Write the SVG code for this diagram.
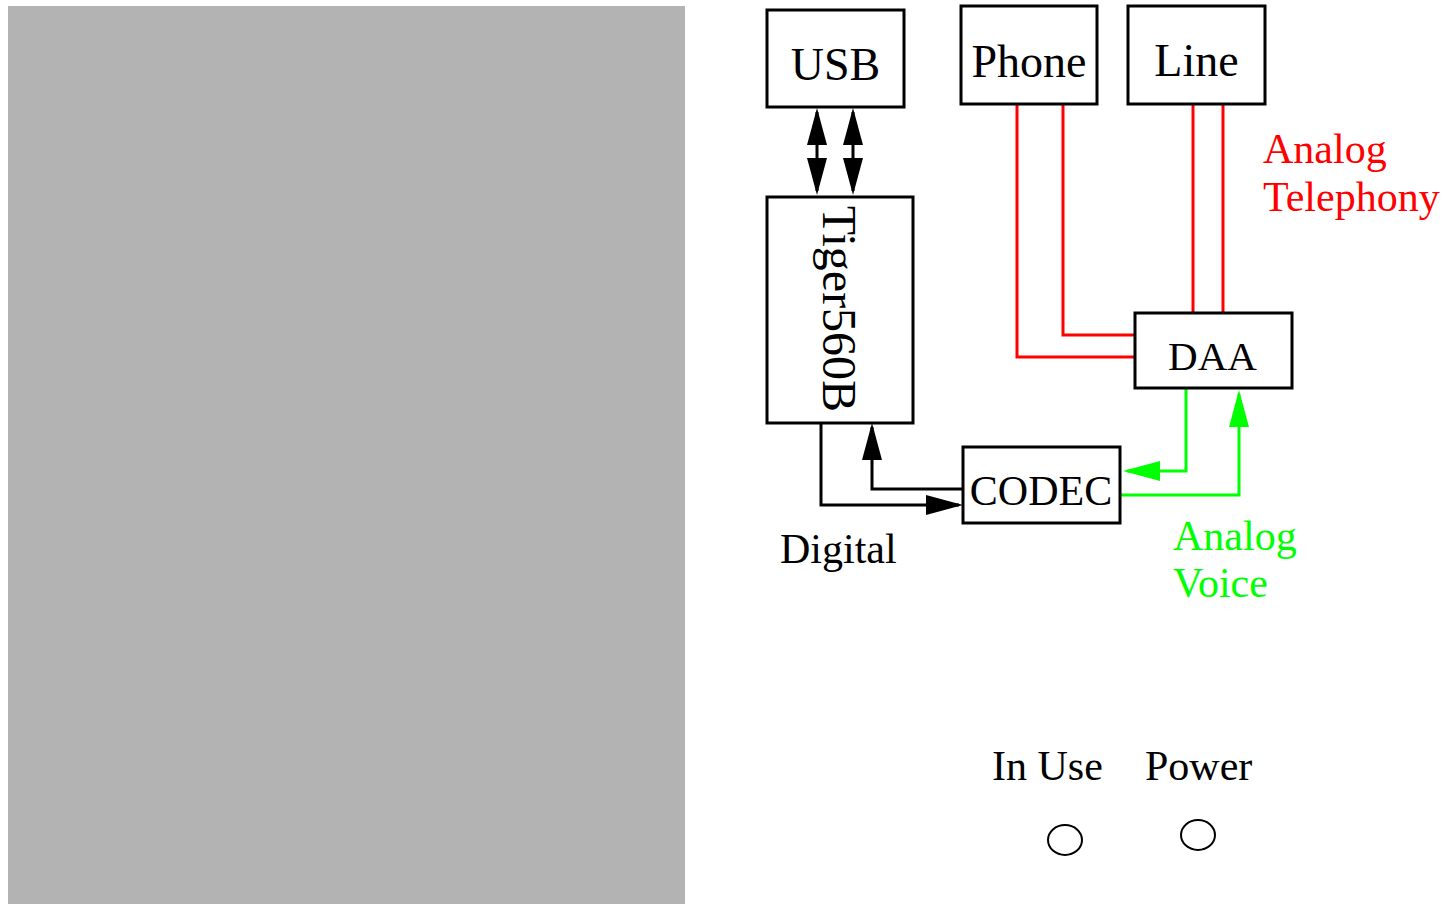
<svg xmlns="http://www.w3.org/2000/svg" width="1442" height="904" viewBox="0 0 1442 904">
<style>
  .box{fill:#fff;stroke:#000;stroke-width:3}
  .lbl{font-family:"Liberation Serif","Times New Roman",serif;text-anchor:middle;fill:#000}
  .big{font-size:46px}
  .mid{font-size:42px}
  .note{font-family:"Liberation Serif","Times New Roman",serif;font-size:42px}
  .blk{fill:none;stroke:#000;stroke-width:3}
  .red{fill:none;stroke:#ff0000;stroke-width:3}
  .grn{fill:none;stroke:#00ff00;stroke-width:3}
  .led{fill:#fff;stroke:#000;stroke-width:2}
</style>
<defs>
  <marker id="ab" viewBox="0 0 37 20" markerWidth="37" markerHeight="20" refX="33" refY="10" markerUnits="userSpaceOnUse" orient="auto-start-reverse">
    <path d="M0,0 L37,10 L0,20 Z" fill="#000"/>
  </marker>
  <marker id="ag" viewBox="0 0 37 20" markerWidth="37" markerHeight="20" refX="33" refY="10" markerUnits="userSpaceOnUse" orient="auto-start-reverse">
    <path d="M0,0 L37,10 L0,20 Z" fill="#00ff00"/>
  </marker>
</defs>
<rect id="panel" x="8" y="6" width="677" height="898" fill="#b3b3b3"/>
<g id="connectors">
  <path class="blk" d="M817,112 L817,191" marker-start="url(#ab)" marker-end="url(#ab)"/>
  <path class="blk" d="M853,112 L853,191" marker-start="url(#ab)" marker-end="url(#ab)"/>
  <path class="blk" d="M821,423 L821,505 L959,505" marker-end="url(#ab)"/>
  <path class="blk" d="M963,489 L872,489 L872,427" marker-end="url(#ab)"/>
  <path class="red" d="M1017,104 L1017,357 L1135,357"/>
  <path class="red" d="M1063,104 L1063,335 L1135,335"/>
  <path class="red" d="M1193,104 L1193,313"/>
  <path class="red" d="M1223,104 L1223,313"/>
  <path class="grn" d="M1186,388 L1186,471 L1127,471" marker-end="url(#ag)"/>
  <path class="grn" d="M1120,495 L1239,495 L1239,394" marker-end="url(#ag)"/>
</g>
<g id="usb">
  <rect class="box" x="767" y="10" width="137" height="97"/>
  <text class="lbl big" x="835.5" y="80">USB</text>
</g>
<g id="phone">
  <rect class="box" x="961" y="6" width="136" height="98"/>
  <text class="lbl big" x="1029" y="77">Phone</text>
</g>
<g id="line">
  <rect class="box" x="1128" y="6" width="137" height="98"/>
  <text class="lbl big" x="1196.5" y="76">Line</text>
</g>
<g id="tiger">
  <rect class="box" x="767" y="197" width="146" height="226"/>
  <text class="lbl" style="font-size:48px" transform="translate(823,309) rotate(90)" x="0" y="0">Tiger560B</text>
</g>
<g id="daa">
  <rect class="box" x="1135" y="313" width="157" height="75"/>
  <text class="lbl" style="font-size:41px" x="1212.5" y="370">DAA</text>
</g>
<g id="codec">
  <rect class="box" x="963" y="447" width="157" height="76"/>
  <text class="lbl mid" x="1041" y="505">CODEC</text>
</g>
<g id="labels">
  <text class="note" x="780" y="563" fill="#000">Digital</text>
  <text class="note" x="1263" y="163" fill="#ff0000">Analog</text>
  <text class="note" x="1263" y="211" fill="#ff0000">Telephony</text>
  <text class="note" x="1173" y="550" fill="#00ff00">Analog</text>
  <text class="note" x="1173" y="597" fill="#00ff00">Voice</text>
</g>
<g id="inuse">
  <text class="note" x="992" y="780">In Use</text>
  <ellipse class="led" cx="1065" cy="840" rx="17" ry="15"/>
</g>
<g id="power">
  <text class="note" x="1145" y="780">Power</text>
  <ellipse class="led" cx="1198" cy="835" rx="17" ry="15"/>
</g>
</svg>
